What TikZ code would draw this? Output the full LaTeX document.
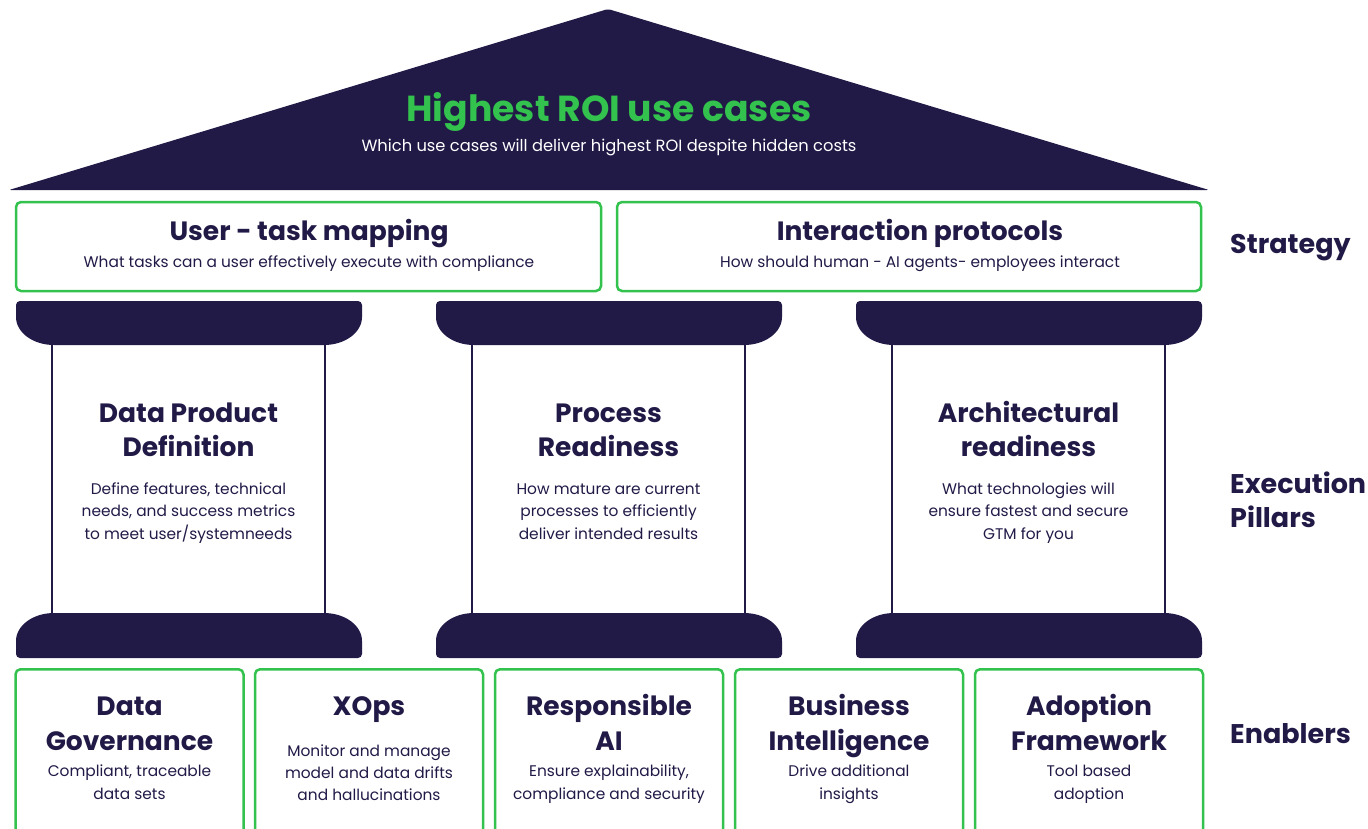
\documentclass[tikz,border=0pt]{standalone}
\usepackage{fontspec}
\setmainfont{Poppins}
\definecolor{navy}{HTML}{211A47}
\definecolor{leaf}{HTML}{33C24D}

% capital of a pillar: left x, right x, top y (height 44)
\newcommand\pillartop[3]{%
  \fill[navy] (#1,#3+4) .. controls (#1,#3+1.8) and (#1+1.8,#3) .. (#1+4,#3)
    -- (#2-4,#3) .. controls (#2-1.8,#3) and (#2,#3+1.8) .. (#2,#3+4)
    -- (#2,#3+16) .. controls (#2,#3+31.5) and (#2-17,#3+44) .. (#2-38,#3+44)
    -- (#1+38,#3+44) .. controls (#1+17,#3+44) and (#1,#3+31.5) .. (#1,#3+16) -- cycle;}
% base of a pillar: left x, right x, top y (height 45)
\newcommand\pillarfoot[3]{%
  \fill[navy] (#1,#3+41) -- (#1,#3+28) .. controls (#1,#3+12.5) and (#1+17,#3) .. (#1+38,#3)
    -- (#2-38,#3) .. controls (#2-17,#3) and (#2,#3+12.5) .. (#2,#3+28)
    -- (#2,#3+41) .. controls (#2,#3+43.2) and (#2-1.8,#3+45) .. (#2-4,#3+45)
    -- (#1+4,#3+45) .. controls (#1+1.8,#3+45) and (#1,#3+43.2) .. (#1,#3+41) -- cycle;}

\begin{document}
\begin{tikzpicture}[x=1pt,y=-1pt,
  greenbox/.style={draw=leaf,line width=2.5pt,rounded corners=5pt,fill=white,inner sep=0pt},
  head/.style={font=\bfseries\fontsize{26.5}{34}\selectfont,text=navy,align=center,inner sep=0pt,anchor=base},
  note/.style={font=\fontsize{15.4}{22.5}\selectfont,text=navy,align=center,inner sep=0pt,anchor=base},
  side/.style={font=\bfseries\fontsize{27}{34}\selectfont,text=navy,align=left,anchor=west,inner sep=0pt},
  shaft/.style={draw=navy,line width=2.5pt}]
\useasboundingbox (0,0) rectangle (1368,828);
\clip (0,0) rectangle (1368,828);

% roof
\fill[navy,rounded corners=2pt] (608,9) -- (1209,190) -- (9,190) -- cycle;
\node[font=\bfseries\fontsize{36.2}{40}\selectfont,text=leaf,inner sep=0pt,anchor=base] (roofhead) at (609,121) {Highest ROI use cases};
\node[font=\fontsize{16.3}{20}\selectfont,text=white,inner sep=0pt,anchor=base] (roofnote) at (609,151) {Which use cases will deliver highest ROI despite hidden costs};

% strategy layer
\node[greenbox,minimum width=585pt,minimum height=89pt] (s1) at (308.5,246.5) {};
\node[greenbox,minimum width=584pt,minimum height=89pt] (s2) at (909,246.5) {};
\node[head] (s1h) at (309,240.5) {User - task mapping};
\node[note] (s1n) at (309,267) {What tasks can a user effectively execute with compliance};
\node[head] (s2h) at (920,240.5) {Interaction protocols};
\node[note] (s2n) at (920,267) {How should human - AI agents- employees interact};

% execution pillars (multi-line texts are placed by their last baseline)
\foreach \L/\R in {16/362,436/782,856/1202}{
  \pillartop{\L}{\R}{301}
  \pillarfoot{\L}{\R}{613}
  \draw[shaft] (\L+36,344) -- (\L+36,614);
  \draw[shaft] (\R-37,344) -- (\R-37,614);
}
\node[head] (p1h) at (188.5,456.5) {Data Product\\Definition};
\node[note] (p1n) at (188.5,539) {Define features, technical\\needs, and success metrics\\to meet user/systemneeds};
\node[head] (p2h) at (608.5,456.5) {Process\\Readiness};
\node[note] (p2n) at (608.5,539) {How mature are current\\processes to efficiently\\deliver intended results};
\node[head] (p3h) at (1028.5,456.5) {Architectural\\readiness};
\node[note] (p3n) at (1028.5,539) {What technologies will\\ensure fastest and secure\\GTM for you};

% enablers
\foreach \c/\n in {129.5/e1,369/e2,609/e3,849/e4,1089/e5}{
  \node[greenbox,minimum width=228pt,minimum height=200pt,anchor=north] (\n) at (\c,668) {};
}
\tikzset{enhead/.style={head,font=\bfseries\fontsize{26.5}{35}\selectfont},
         ennote/.style={note,font=\fontsize{15.4}{23}\selectfont}}
\node[enhead] (e1h) at (129.5,750.5) {Data\\Governance};
\node[ennote] (e1n) at (129.5,799) {Compliant, traceable\\data sets};
\node[enhead] (e2h) at (369,715.5) {XOps};
\node[note,font=\fontsize{15.4}{22}\selectfont] (e2n) at (369,800) {Monitor and manage\\model and data drifts\\and hallucinations};
\node[enhead] (e3h) at (609,750.5) {Responsible\\AI};
\node[ennote] (e3n) at (609,799) {Ensure explainability,\\compliance and security};
\node[enhead] (e4h) at (849,750.5) {Business\\Intelligence};
\node[ennote] (e4n) at (849,799) {Drive additional\\insights};
\node[enhead] (e5h) at (1089,750.5) {Adoption\\Framework};
\node[ennote] (e5n) at (1089,799) {Tool based\\adoption};

% layer labels
\node[side] (lstrat) at (1230,247.5) {Strategy};
\node[side] (lexec) at (1230,500) {Execution\\Pillars};
\node[side] (lenab) at (1230,734) {Enablers};
\end{tikzpicture}
\end{document}
